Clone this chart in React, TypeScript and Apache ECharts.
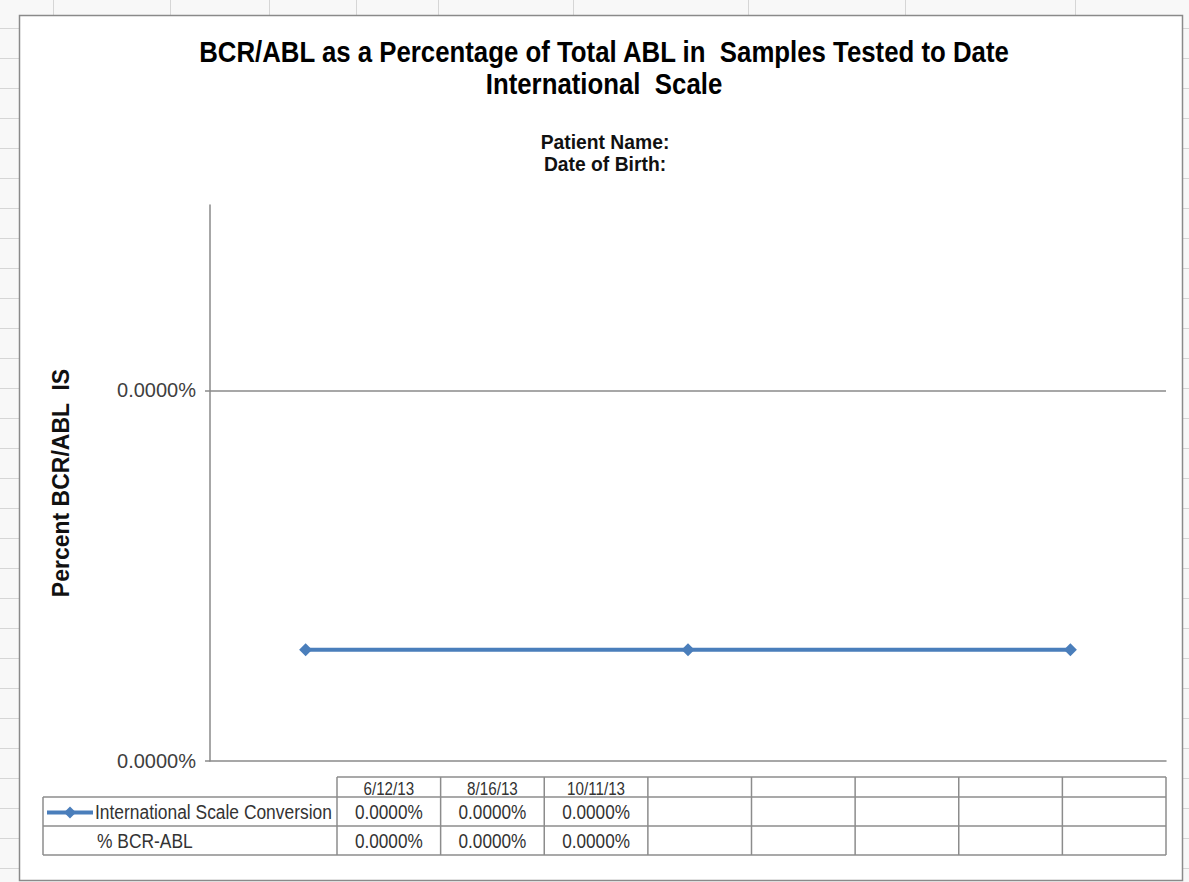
import React, { useEffect, useRef } from "react";
import * as echarts from "echarts";

// ---- data ----
const sampleDates = ["6/12/13", "8/16/13", "10/11/13"];
const emptyColumns = ["", "", "", "", ""];
const seriesNames = ["International Scale Conversion", "% BCR-ABL"];
// values in percent (all display as 0.0000%)
const isConversionValues = [0.000006, 0.000006, 0.000006];
const bcrAblValues = [0.000004, 0.000004, 0.000004];
const yTickValues = [0, 0.00002];
const yAxisMax = 0.00003;
const titleLines = [
  "BCR/ABL as a Percentage of Total ABL in  Samples Tested to Date",
  "International  Scale",
];
const subtitleLines = ["Patient Name:", "Date of Birth:"];
const yAxisTitle = "Percent BCR/ABL  IS";

const LINE_COLOR = "#4a7ebb";
const FONT = "'Liberation Sans', Arial, sans-serif";
const fmt = (v: number) => v.toFixed(4) + "%";

export default function App() {
  const ref = useRef<HTMLDivElement>(null);
  useEffect(() => {
    const chart = echarts.init(ref.current!, null, { renderer: "svg" });

    const graphics: any[] = [];
    // spreadsheet background lines
    const sheetLine = { stroke: "#d6d6d6", lineWidth: 1 };
    [53, 170, 269, 356, 438, 573, 748, 905, 1075].forEach((x) =>
      graphics.push({ type: "line", z: -100, shape: { x1: x + 0.5, y1: 0, x2: x + 0.5, y2: 15 }, style: sheetLine })
    );
    for (let y = 28; y < 882; y += 30) {
      graphics.push({ type: "line", z: -100, shape: { x1: 0, y1: y + 0.5, x2: 19, y2: y + 0.5 }, style: sheetLine });
      graphics.push({ type: "line", z: -100, shape: { x1: 1183, y1: y + 0.5, x2: 1189, y2: y + 0.5 }, style: sheetLine });
    }
    // chart frame
    graphics.push({
      type: "rect",
      z: -99,
      shape: { x: 19.5, y: 15.5, width: 1163, height: 865 },
      style: { fill: "#ffffff", stroke: "#8a8a8a", lineWidth: 1.5 },
    });

    // titles
    titleLines.forEach((t, i) =>
      graphics.push({
        type: "text",
        x: 604,
        y: 52 + i * 32,
        scaleX: 0.86,
        style: { text: t, fill: "#000", font: `bold 30px ${FONT}`, textAlign: "center", textVerticalAlign: "middle" },
      })
    );
    subtitleLines.forEach((t, i) =>
      graphics.push({
        type: "text",
        x: 605,
        y: 142 + i * 22,
        scaleX: 0.92,
        style: { text: t, fill: "#111", font: `bold 21px ${FONT}`, textAlign: "center", textVerticalAlign: "middle" },
      })
    );

    // data table
    const tStroke = { stroke: "#8c8c8c", lineWidth: 1.5 };
    const tLeft = 43, cLeft = 337, tRight = 1166;
    const rowY = [777, 797, 826, 855];
    const columns = [...sampleDates, ...emptyColumns];
    const colW = (tRight - cLeft) / columns.length;
    graphics.push({ type: "line", shape: { x1: cLeft, y1: rowY[0], x2: tRight, y2: rowY[0] }, style: tStroke });
    for (let r = 1; r < rowY.length; r++)
      graphics.push({ type: "line", shape: { x1: tLeft, y1: rowY[r], x2: tRight, y2: rowY[r] }, style: tStroke });
    graphics.push({ type: "line", shape: { x1: tLeft, y1: rowY[1], x2: tLeft, y2: rowY[3] }, style: tStroke });
    for (let k = 0; k <= columns.length; k++) {
      const x = cLeft + k * colW;
      graphics.push({ type: "line", shape: { x1: x, y1: rowY[0], x2: x, y2: rowY[3] }, style: tStroke });
    }
    const rowsValues = [isConversionValues, bcrAblValues];
    columns.forEach((c, k) => {
      const cx = cLeft + (k + 0.5) * colW;
      if (c)
        graphics.push({
          type: "text",
          x: cx,
          y: (rowY[0] + rowY[1]) / 2 + 1,
          scaleX: 0.8,
          style: { text: c, fill: "#333", font: `19px ${FONT}`, textAlign: "center", textVerticalAlign: "middle" },
        });
      rowsValues.forEach((vals, r) => {
        if (k < vals.length)
          graphics.push({
            type: "text",
            x: cx,
            y: (rowY[r + 1] + rowY[r + 2]) / 2 + 1,
            scaleX: 0.86,
            style: { text: fmt(vals[k]), fill: "#333", font: `20px ${FONT}`, textAlign: "center", textVerticalAlign: "middle" },
          });
      });
    });
    // row labels
    seriesNames.forEach((n, r) =>
      graphics.push({
        type: "text",
        x: r === 0 ? 95 : 97,
        y: (rowY[r + 1] + rowY[r + 2]) / 2 + 1,
        scaleX: 0.87,
        style: { text: n, fill: "#333", font: `20px ${FONT}`, textAlign: "left", textVerticalAlign: "middle" },
      })
    );
    // legend key
    const ky = (rowY[1] + rowY[2]) / 2 + 1;
    graphics.push({ type: "line", shape: { x1: 47, y1: ky, x2: 93, y2: ky }, style: { stroke: LINE_COLOR, lineWidth: 4 } });
    graphics.push({
      type: "polygon",
      shape: { points: [[70, ky - 6], [76, ky], [70, ky + 6], [64, ky]] },
      style: { fill: LINE_COLOR },
    });

    const option: any = {
      animation: false,
      backgroundColor: "transparent",
      grid: { left: 210, right: 23, top: 205, bottom: 121 },
      xAxis: {
        type: "value",
        min: -0.25,
        max: sampleDates.length - 0.75,
        axisLine: { show: true, onZero: false, lineStyle: { color: "#8a8a8a", width: 1.5 } },
        axisTick: { show: false },
        axisLabel: { show: false },
        splitLine: { show: false },
      },
      yAxis: {
        type: "value",
        min: 0,
        max: yAxisMax,
        interval: yTickValues[1],
        name: yAxisTitle,
        nameLocation: "middle",
        nameGap: 138,
        nameTextStyle: { fontFamily: FONT, fontWeight: "bold", fontSize: 23, color: "#111" },
        axisLine: { show: true, onZero: false, lineStyle: { color: "#8a8a8a", width: 1.5 } },
        axisTick: { show: true, length: 5, customValues: yTickValues, lineStyle: { color: "#8a8a8a", width: 1.5 } },
        axisLabel: {
          customValues: yTickValues,
          margin: 14,
          formatter: (v: number) => fmt(v),
          fontFamily: FONT,
          fontSize: 20,
          color: "#3f3f3f",
        },
        splitLine: { show: true, showMinLine: false, lineStyle: { color: "#8a8a8a", width: 1.5 } },
      },
      series: [
        {
          name: seriesNames[0],
          type: "line",
          data: isConversionValues.map((v, i) => [i, v]),
          symbol: "diamond",
          symbolSize: 13,
          lineStyle: { color: LINE_COLOR, width: 4 },
          itemStyle: { color: LINE_COLOR },
        },
      ],
      graphic: { elements: graphics },
    };
    chart.setOption(option);
    return () => chart.dispose();
  }, []);
  return (
    <div
      ref={ref}
      style={{ position: "fixed", left: 0, top: 0, width: 1189, height: 882, background: "#f8f8f8" }}
    />
  );
}
